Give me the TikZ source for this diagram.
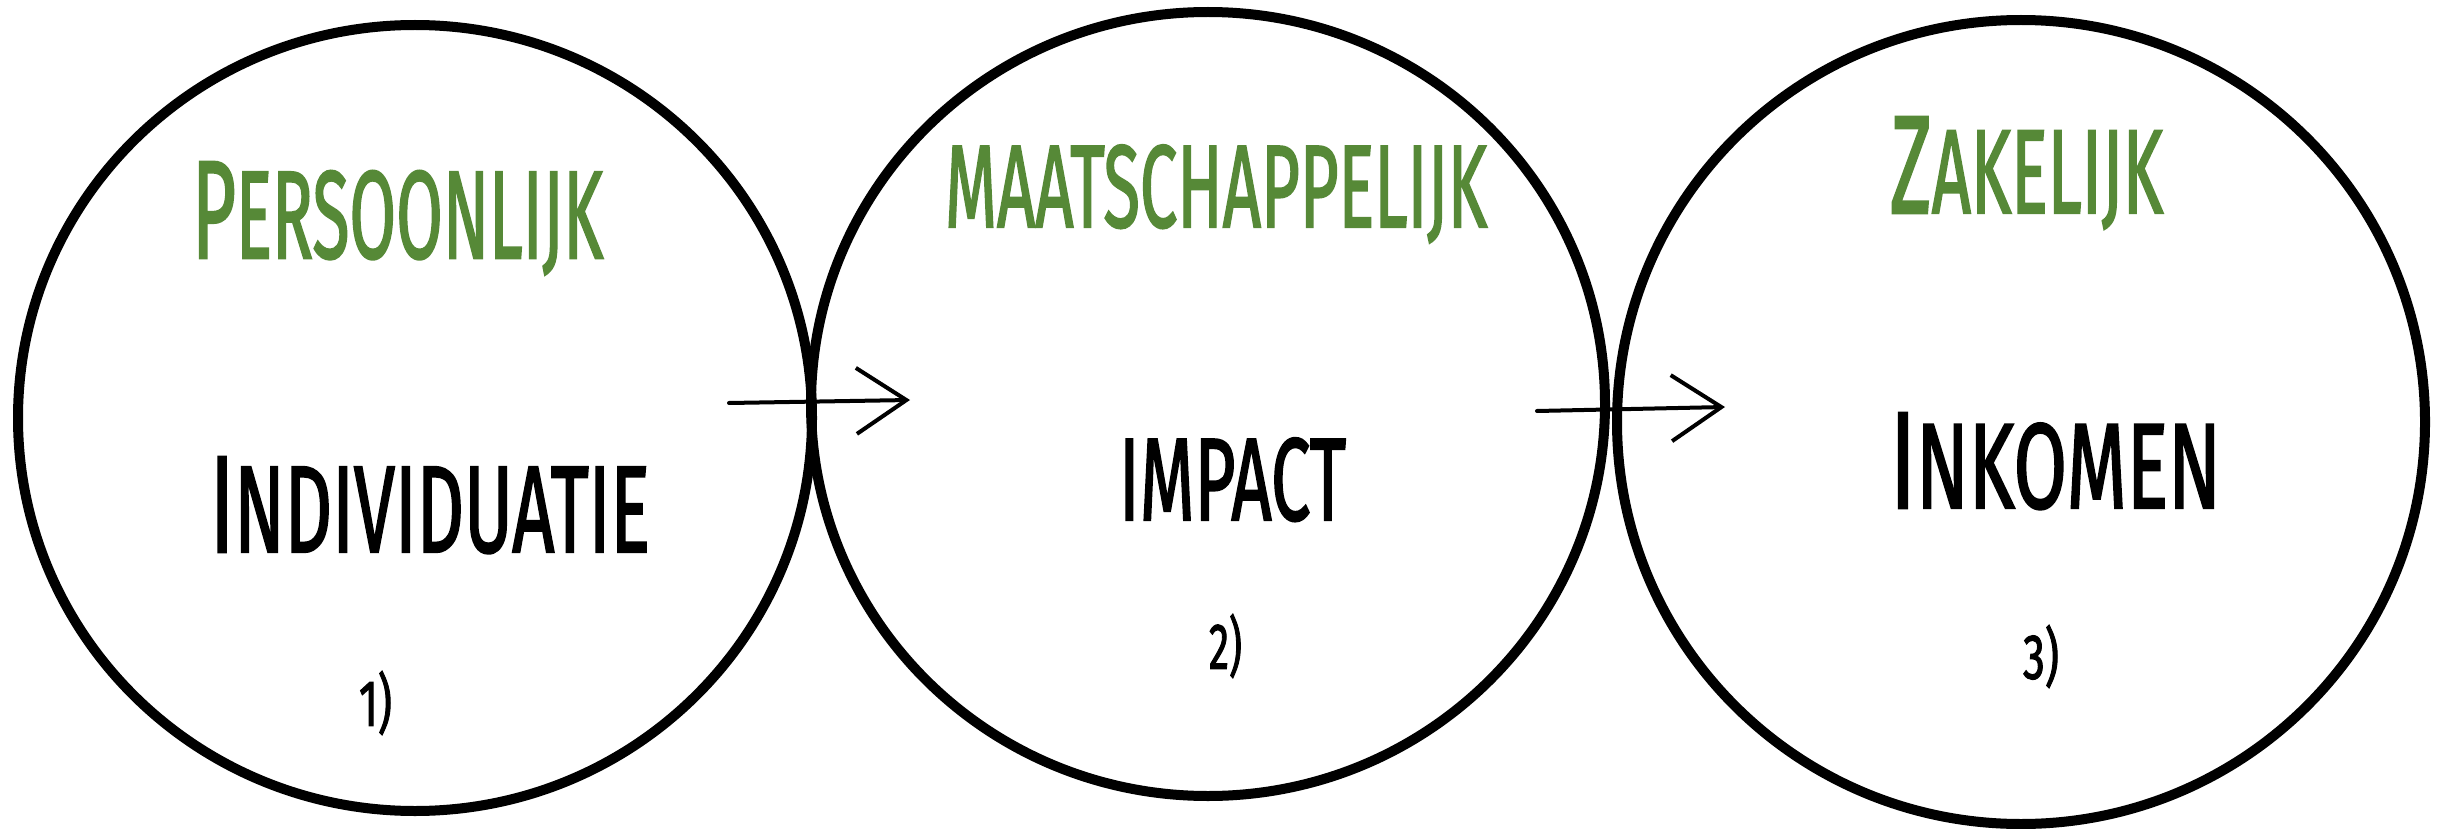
\documentclass[tikz,border=0pt]{standalone}
\usepackage{fontspec}
\usepackage{graphicx}
\usetikzlibrary{arrows.meta,shapes.geometric}
\newfontfamily\handfont[FakeBold=2]{Fira Sans}
\definecolor{leafgreen}{RGB}{86,137,55}
\newcommand\capsmix[3]{{\fontsize{#1}{12}\selectfont #2}{\fontsize{10}{12}\selectfont #3}}
\tikzset{
  ring/.style={ellipse, draw=black, line width=10pt, inner sep=0pt},
  lbl/.style={inner sep=0pt, outer sep=0pt, font=\handfont},
  head/.style={lbl, text=leafgreen},
  body/.style={lbl, text=black},
  num/.style={inner sep=0pt, outer sep=0pt, font=\handfont, anchor=south west},
  flow/.style={line width=4pt, line cap=round, line join=round,
    -{Straight Barb[length=50pt, width=66pt, line width=4pt]}}
}
\begin{document}
\begin{tikzpicture}[x=1pt, y=-1pt]
\useasboundingbox (0,0) rectangle (2440,829);
% circles
\node[ring, minimum width=794pt, minimum height=786pt] (c1) at (415,418) {};
\node[ring, minimum width=794pt, minimum height=784pt] (c2) at (1208,404) {};
\node[ring, minimum width=808pt, minimum height=804pt] (c3) at (2021,422) {};
% headings
\node[head, anchor=base west] (t1) at (192,258) {\resizebox{411pt}{96pt}{\capsmix{11.2}{P}{ERSOONLIJK}}};
\node[head, anchor=base west] (t2) at (945,227) {\resizebox{542pt}{82pt}{\capsmix{10}{M}{AATSCHAPPELIJK}}};
\node[head, anchor=base west] (t3) at (1890,213) {\resizebox{273pt}{96pt}{\capsmix{11.7}{Z}{AKELIJK}}};
% main words
\node[body, anchor=base west] (n1) at (210,552) {\resizebox{440pt}{95pt}{\capsmix{11.2}{I}{NDIVIDUATIE}}};
\node[body, anchor=base west] (n2) at (1119,520) {\resizebox{227pt}{82pt}{\capsmix{10}{I}{MPACT}}};
\node[body, anchor=base west] (n3) at (1890,508) {\resizebox{331pt}{95pt}{\capsmix{11.4}{I}{NKOMEN}}};
% numbers
\node[num] (m1) at (359,735) {\resizebox*{33pt}{64pt}{1)}};
\node[num] (m2) at (1209,678) {\resizebox*{33pt}{64pt}{2)}};
\node[num] (m3) at (2023,688) {\resizebox*{36pt}{63pt}{3)}};
% arrows
\coordinate (a1s) at (729,403);
\coordinate (a1e) at (910,400);
\coordinate (a2s) at (1537,411);
\coordinate (a2e) at (1725,407);
\draw[flow] (a1s) -- (a1e);
\draw[flow] (a2s) -- (a2e);
\end{tikzpicture}
\end{document}
